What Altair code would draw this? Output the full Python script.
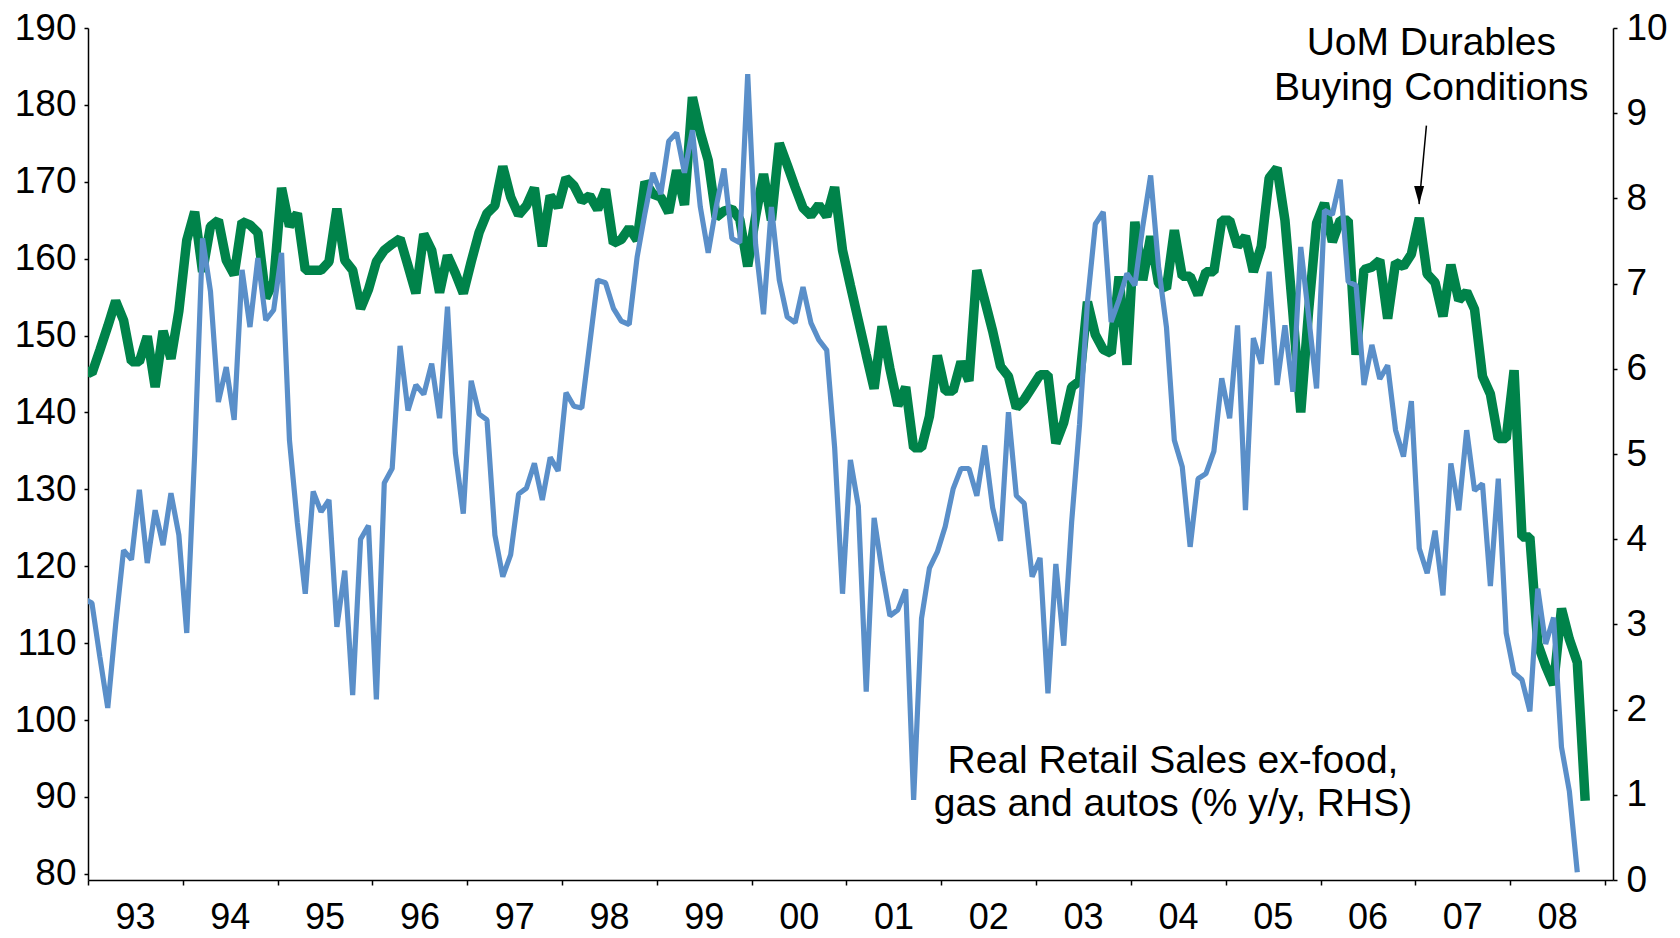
import altair as alt
import pandas as pd

# ---------------- data (monthly, first value = Dec 1992, clipped at the axis) -------------
FIRST_YEAR, FIRST_MONTH = 1992, 12

# UoM Durables Buying Conditions (LHS)
uom_1992 = [145.5]
uom_1993 = [145.1, 148.1, 151.2, 154.5, 152.0, 146.6, 146.6, 149.9, 143.3, 150.6, 147.0, 153.2]
uom_1994 = [162.4, 166.1, 158.3, 164.2, 165.0, 159.8, 157.9, 164.8, 164.4, 163.4, 154.9, 157.0]
uom_1995 = [169.2, 164.2, 165.9, 158.5, 158.5, 158.5, 159.6, 166.5, 159.8, 158.5, 153.5, 156.0]
uom_1996 = [159.6, 161.1, 161.9, 162.6, 159.1, 155.5, 163.2, 161.1, 155.6, 160.4, 158.1, 155.5]
uom_1997 = [159.6, 163.4, 165.9, 166.9, 172.0, 168.0, 165.7, 166.9, 169.2, 161.6, 168.2, 166.7]
uom_1998 = [170.5, 169.5, 167.5, 168.2, 166.4, 169.0, 162.0, 162.5, 164.0, 162.4, 170.0, 168.4]
uom_1999 = [168.0, 166.0, 171.5, 167.0, 181.0, 176.4, 172.8, 165.4, 166.2, 166.5, 165.1, 159.0]
uom_2000 = [165.5, 171.0, 165.0, 175.0, 172.2, 169.3, 166.6, 165.6, 167.0, 165.5, 169.3, 161.1]
uom_2001 = [156.5, 152.0, 147.5, 143.1, 151.2, 145.7, 140.9, 143.3, 135.4, 135.4, 139.5, 147.4]
uom_2002 = [142.8, 142.8, 146.6, 144.1, 158.5, 154.6, 150.6, 146.0, 144.7, 140.6, 141.7, 143.3]
uom_2003 = [144.9, 144.9, 136.0, 138.7, 143.3, 144.1, 154.4, 150.1, 148.2, 147.7, 157.7, 146.2]
uom_2004 = [164.8, 157.2, 162.9, 156.8, 156.1, 163.7, 157.7, 157.7, 155.3, 158.3, 158.3, 165.0]
uom_2005 = [165.0, 161.6, 162.9, 158.3, 161.6, 170.5, 171.8, 165.0, 153.0, 140.0, 153.3, 164.6]
uom_2006 = [167.2, 162.2, 165.0, 165.0, 147.5, 158.6, 158.9, 159.8, 152.2, 159.5, 159.0, 160.6]
uom_2007 = [165.3, 158.0, 156.9, 152.5, 159.2, 154.6, 155.7, 153.4, 144.7, 142.4, 136.6, 136.6]
uom_2008 = [145.5, 123.8, 123.8, 109.9, 107.0, 104.6, 114.5, 110.5, 107.5, 89.5]

# Real Retail Sales ex-food, gas and autos (% y/y, RHS)
rrs_1992 = [3.3]
rrs_1993 = [3.25, 2.62, 2.02, 3.0, 3.87, 3.76, 4.58, 3.72, 4.34, 3.93, 4.54, 4.05]
rrs_1994 = [2.90, 5.0, 7.53, 6.91, 5.61, 6.02, 5.40, 7.16, 6.49, 7.30, 6.57, 6.69]
rrs_1995 = [7.36, 5.16, 4.19, 3.36, 4.56, 4.32, 4.46, 2.97, 3.63, 2.17, 4.00, 4.16]
rrs_1996 = [2.12, 4.66, 4.83, 6.27, 5.51, 5.81, 5.70, 6.06, 5.42, 6.73, 5.01, 4.30]
rrs_1997 = [5.86, 5.47, 5.40, 4.05, 3.56, 3.82, 4.53, 4.60, 4.89, 4.46, 4.96, 4.80]
rrs_1998 = [5.72, 5.56, 5.54, 6.29, 7.04, 7.01, 6.71, 6.56, 6.52, 7.31, 7.83, 8.30]
rrs_1999 = [8.05, 8.67, 8.77, 8.30, 8.80, 7.90, 7.36, 7.90, 8.35, 7.53, 7.48, 9.46]
rrs_2000 = [7.46, 6.64, 7.90, 7.04, 6.61, 6.54, 6.96, 6.54, 6.34, 6.22, 5.08, 3.36]
rrs_2001 = [4.93, 4.39, 2.21, 4.25, 3.63, 3.10, 3.17, 3.41, 0.94, 3.07, 3.66, 3.85]
rrs_2002 = [4.15, 4.59, 4.83, 4.83, 4.51, 5.10, 4.37, 3.98, 5.49, 4.51, 4.42, 3.56]
rrs_2003 = [3.78, 2.19, 3.71, 2.75, 4.2, 5.35, 6.78, 7.7, 7.84, 6.55, 6.81, 7.12]
rrs_2004 = [6.98, 7.67, 8.27, 7.20, 6.49, 5.16, 4.85, 3.91, 4.71, 4.77, 5.03, 5.89]
rrs_2005 = [5.42, 6.51, 4.34, 6.36, 6.06, 7.14, 5.81, 6.51, 5.73, 7.43, 6.61, 5.77]
rrs_2006 = [7.86, 7.81, 8.22, 7.02, 6.98, 5.81, 6.28, 5.88, 6.04, 5.28, 4.97, 5.62]
rrs_2007 = [3.89, 3.60, 4.10, 3.34, 4.89, 4.34, 5.28, 4.57, 4.65, 3.45, 4.71, 2.90]
rrs_2008 = [2.43, 2.35, 1.98, 3.42, 2.77, 3.08, 1.56, 1.04, 0.09]

year_ticks = list(range(1993, 2010))
left_ticks = list(range(80, 191, 10))
right_ticks = list(range(0, 11))

uom_label = ["UoM Durables", "Buying Conditions"]
rrs_label = ["Real Retail Sales ex-food,", "gas and autos (% y/y, RHS)"]

# ---------------- build tables -------------
uom_values = (uom_1992 + uom_1993 + uom_1994 + uom_1995 + uom_1996 + uom_1997 + uom_1998
              + uom_1999 + uom_2000 + uom_2001 + uom_2002 + uom_2003 + uom_2004
              + uom_2005 + uom_2006 + uom_2007 + uom_2008)
rrs_values = (rrs_1992 + rrs_1993 + rrs_1994 + rrs_1995 + rrs_1996 + rrs_1997 + rrs_1998
              + rrs_1999 + rrs_2000 + rrs_2001 + rrs_2002 + rrs_2003 + rrs_2004
              + rrs_2005 + rrs_2006 + rrs_2007 + rrs_2008)


def month_pos(i):
    # mid-month position as a decimal year
    m0 = (FIRST_YEAR * 12 + FIRST_MONTH - 1) + i
    return m0 / 12.0 + 0.5 / 12.0


uom_df = pd.DataFrame({"x": [month_pos(i) for i in range(len(uom_values))], "v": uom_values})
rrs_df = pd.DataFrame({"x": [month_pos(i) for i in range(len(rrs_values))], "v": rrs_values})

uom_text_df = pd.DataFrame({"x": [2007.168, 2007.168], "v": [188.0, 182.2], "t": uom_label})
rrs_text_df = pd.DataFrame({"x": [2004.444, 2004.444], "v": [94.7, 89.1], "t": rrs_label})
arrow_df = pd.DataFrame({"x": [2007.117], "v": [177.3], "x2": [2007.040], "v2": [167.1]})

FONT = "Liberation Sans"
GREEN = "#00834A"
BLUE = "#5A8FC9"
LEFT_DOMAIN = [79.2, 190]
AXIS_FS = 37

x_scale = alt.Scale(domain=[1993, 2009.085], nice=False, zero=False)
x_axis = alt.Axis(
    values=year_ticks,
    labelExpr="datum.value >= 2009 ? '' : substring(toString(datum.value), 2, 4)",
    labelOffset=47, labelFlush=False, labelOverlap=False, labelBound=False,
    tickSize=5, labelPadding=15, title=None, grid=False,
    domainColor="black", tickColor="black", domainWidth=1.5, tickWidth=1.5,
    labelFontSize=36, labelColor="black", labelFont=FONT,
)
left_axis = alt.Axis(
    values=left_ticks, orient="left", tickSize=4, labelPadding=8, title=None, grid=False,
    domainColor="black", tickColor="black", domainWidth=1.5, tickWidth=1.5,
    labelFontSize=AXIS_FS, labelColor="black", labelFont=FONT, labelOverlap=False,
    labelFlush=False,
)
right_axis = alt.Axis(
    values=right_ticks, orient="right", tickSize=4, labelPadding=9, title=None, grid=False,
    domainColor="black", tickColor="black", domainWidth=1.5, tickWidth=1.5,
    labelFontSize=AXIS_FS, labelColor="black", labelFont=FONT, labelOverlap=False,
    labelFlush=False,
)

left_scale = alt.Scale(domain=LEFT_DOMAIN, nice=False, zero=False)
x_enc = alt.X("x:Q", scale=x_scale, axis=x_axis)
yl_enc = alt.Y("v:Q", scale=left_scale, axis=left_axis)

uom_line = alt.Chart(uom_df).mark_line(
    color=GREEN, strokeWidth=9.5, strokeJoin="bevel", clip=True
).encode(x=x_enc, y=yl_enc)

rrs_line = alt.Chart(rrs_df).mark_line(
    color=BLUE, strokeWidth=5.2, strokeJoin="bevel", clip=True
).encode(
    x=x_enc,
    y=alt.Y("v:Q", scale=alt.Scale(domain=[0, 10], nice=False, zero=False), axis=right_axis),
)

uom_text = alt.Chart(uom_text_df).mark_text(
    font=FONT, fontSize=39, color="black", align="center", baseline="middle"
).encode(x=x_enc, y=yl_enc, text="t:N")

rrs_text = alt.Chart(rrs_text_df).mark_text(
    font=FONT, fontSize=39, color="black", align="center", baseline="middle"
).encode(x=x_enc, y=yl_enc, text="t:N")

arrow_line = alt.Chart(arrow_df).mark_rule(color="black", strokeWidth=1.5).encode(
    x=x_enc, y=yl_enc, x2="x2:Q", y2="v2:Q",
)

arrow_head = alt.Chart(arrow_df).mark_point(
    shape="M -1 -3.6 L 1 -3.6 L 0 0 Z", size=100, filled=True, color="black", opacity=1
).encode(
    x=alt.X("x2:Q", scale=x_scale, axis=x_axis),
    y=alt.Y("v2:Q", scale=left_scale, axis=left_axis),
)

left_layer = alt.layer(uom_line, uom_text, rrs_text, arrow_line, arrow_head)

chart = alt.layer(left_layer, rrs_line).resolve_scale(y="independent").properties(
    width=1525,
    height=852,
    autosize=alt.AutoSizeParams(type="none"),
    padding={"left": 80, "top": 20, "right": 59, "bottom": 58},
    background="white",
).configure_view(stroke=None)

chart.save("out.html", embed_options={"renderer": "svg", "actions": False})
